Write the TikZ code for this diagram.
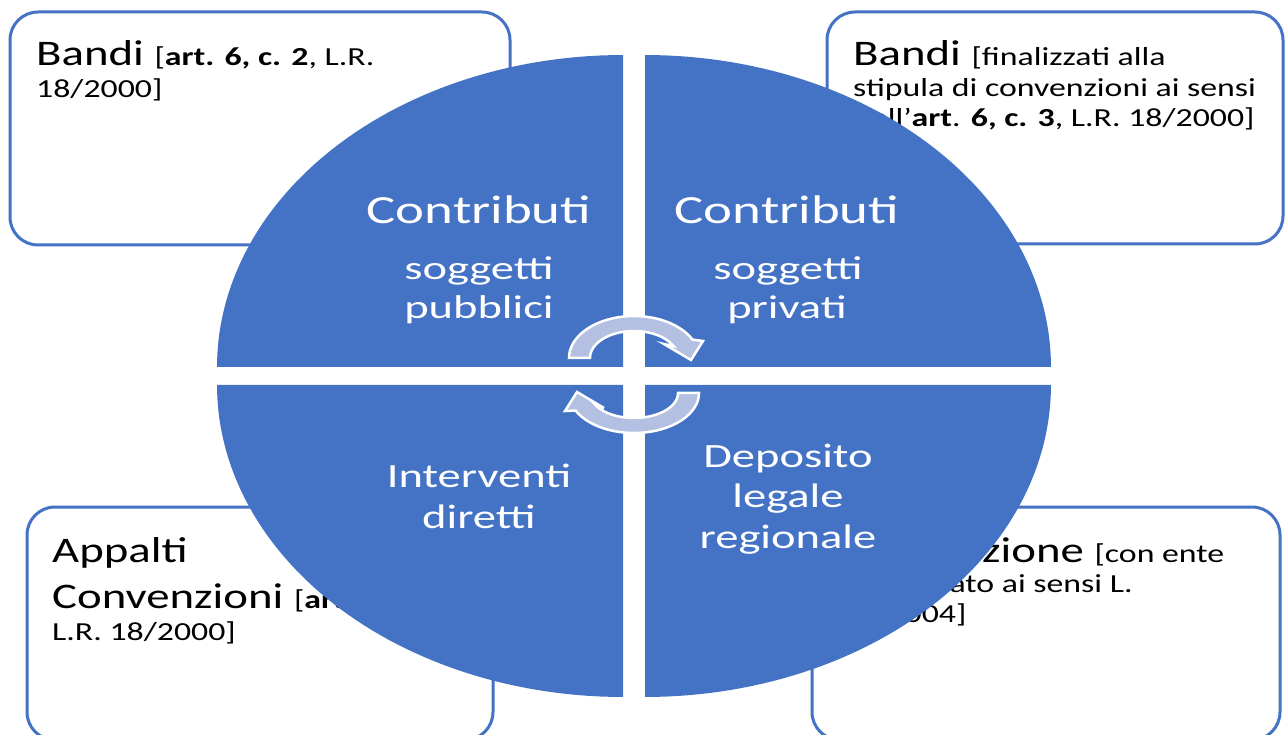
\documentclass[tikz,border=0pt]{standalone}
\usepackage{fontspec}
\setmainfont{Carlito}
\usepackage{graphicx}
\definecolor{qblue}{RGB}{68,114,196}
\definecolor{arrowc}{RGB}{180,192,226}
\newcommand\BXs[1]{\scalebox{1.3}[1]{#1}}
\newcommand\QXs[1]{\scalebox{1.37}[1]{#1}}
\newcommand\QYs[1]{\scalebox{1.41}[1]{#1}}
\newcommand\fbig{\fontsize{36}{44}\selectfont}
\newcommand\fsml{\fontsize{26}{32}\selectfont}
\newcommand\fqa{\fontsize{40}{48}\selectfont}
\newcommand\fqb{\fontsize{33}{40}\selectfont}
\newcommand\fqc{\fontsize{34}{41}\selectfont}
\begin{document}
\begin{tikzpicture}[x=1pt,y=-1pt,
  box/.style={draw=qblue, line width=3pt, rounded corners=28pt, fill=white},
  quad/.style={fill=qblue},
  cyc/.style={fill=arrowc, draw=white, line width=2.5pt, line join=miter},
  btxt/.style={inner sep=0pt, anchor=base west, text=black},
  qtxt/.style={inner sep=0pt, anchor=base, text=white}]
\useasboundingbox (0,0) rectangle (1286,735);
\clip (0,0) rectangle (1286,735);
% corner boxes
\draw[box] (10,12) rectangle (510,245);
\draw[box] (827,12) rectangle (1283,244);
\draw[box] (27,507) rectangle (493,740);
\draw[box] (812,507) rectangle (1280,740);
% box texts
\node[btxt] (tla) at (36,66) {\BXs{\fbig Bandi \fsml[\textbf{art. 6, c. 2}, L.R.}};
\node[btxt] (tlb) at (36,98) {\BXs{\fsml 18/2000]}};
\node[btxt] (tra) at (853,66) {\BXs{\fbig Bandi \fsml[finalizzati alla}};
\node[btxt] (trb) at (853,97) {\BXs{\fsml stipula di convenzioni ai sensi}};
\node[btxt] (trc) at (853,127) {\BXs{\fsml dell'\textbf{art}. \textbf{6, c. 3}, L.R. 18/2000]}};
\node[btxt] (bla) at (52,562) {\BXs{\fbig Appalti}};
\node[btxt] (blb) at (52,608) {\BXs{\fbig Convenzioni \fsml[\textbf{art. 6, c. 1},}};
\node[btxt] (blc) at (52,640) {\BXs{\fsml L.R. 18/2000]}};
\node[btxt] (bra) at (840,562) {\BXs{\fbig Convenzione \fsml[con ente}};
\node[btxt] (brb) at (840,592) {\BXs{\fsml accreditato ai sensi L.}};
\node[btxt] (brc) at (840,622) {\BXs{\fsml 16/2004]}};
% quadrants
\path[quad] (623,367) -- plot[domain=180:270, samples=60] ({623+406*cos(\x)},{367+312*sin(\x)}) -- cycle;
\path[quad] (645,367) -- plot[domain=270:360, samples=60] ({645+406*cos(\x)},{367+312*sin(\x)}) -- cycle;
\path[quad] (623,385) -- plot[domain=90:180, samples=60] ({623+406*cos(\x)},{385+312*sin(\x)}) -- cycle;
\path[quad] (645,385) -- plot[domain=0:90, samples=60] ({645+406*cos(\x)},{385+312*sin(\x)}) -- cycle;
% cycle arrows
\path[cyc] plot[domain=180:334, samples=40] ({634+65*cos(\x)},{358+42*sin(\x)}) -- (703,341) -- (691,360) -- (664,344) -- plot[domain=334:180, samples=40] ({634+44*cos(\x)},{358+27*sin(\x)}) -- cycle;
\path[cyc] plot[domain=0:154, samples=40] ({634+65*cos(\x)},{393+40*sin(\x)}) -- (565,411) -- (577,392) -- (604,408) -- plot[domain=154:0, samples=40] ({634+44*cos(\x)},{393+25*sin(\x)}) -- cycle;
% quadrant texts
\node[qtxt] (q1a) at (479,224) {\QXs{\fqa Contributi}};
\node[qtxt] (q1b) at (479,280) {\QYs{\fqb soggetti}};
\node[qtxt] (q1c) at (479,319) {\QYs{\fqb pubblici}};
\node[qtxt] (q2a) at (787,224) {\QXs{\fqa Contributi}};
\node[qtxt] (q2b) at (788,280) {\QYs{\fqb soggetti}};
\node[qtxt] (q2c) at (787,319) {\QYs{\fqb privati}};
\node[qtxt] (q3a) at (479,487) {\QXs{\fqc Interventi}};
\node[qtxt] (q3b) at (479,528) {\QXs{\fqc diretti}};
\node[qtxt] (q4a) at (788,467) {\QXs{\fqc Deposito}};
\node[qtxt] (q4b) at (788,507) {\QXs{\fqc legale}};
\node[qtxt] (q4c) at (788,548) {\QXs{\fqc regionale}};
\end{tikzpicture}
\end{document}
